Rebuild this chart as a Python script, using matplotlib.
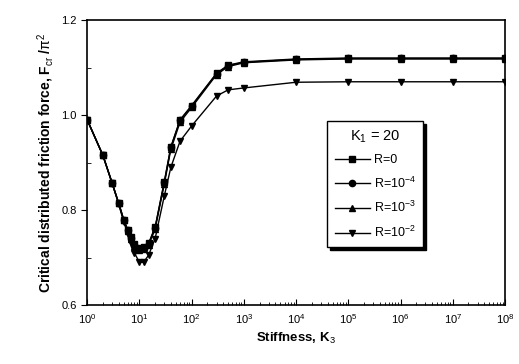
import matplotlib
matplotlib.use('Agg')
import matplotlib.pyplot as plt
from matplotlib.ticker import LogLocator, NullFormatter, FixedLocator

plt.rcParams['font.family'] = ['Liberation Sans', 'DejaVu Sans']
plt.rcParams['mathtext.fontset'] = 'custom'
plt.rcParams['mathtext.rm'] = 'Liberation Sans'
plt.rcParams['mathtext.it'] = 'Liberation Sans'

# stiffness values (x)
k3 = [1, 2, 3, 4, 5, 6, 7, 8, 10, 12, 15, 20, 30, 40, 60, 100, 300, 500, 1000,
      1e4, 1e5, 1e6, 1e7, 1e8]

f_r0 = [0.99, 0.915, 0.857, 0.815, 0.780, 0.758, 0.743, 0.728, 0.720, 0.722,
        0.730, 0.764, 0.860, 0.933, 0.990, 1.020, 1.088, 1.105, 1.112,
        1.118, 1.120, 1.120, 1.120, 1.120]
f_r4 = [0.99, 0.915, 0.857, 0.815, 0.780, 0.757, 0.742, 0.727, 0.719, 0.721,
        0.729, 0.763, 0.859, 0.932, 0.989, 1.019, 1.087, 1.104, 1.111,
        1.117, 1.119, 1.119, 1.119, 1.119]
f_r3 = [0.99, 0.915, 0.856, 0.814, 0.778, 0.755, 0.739, 0.724, 0.716, 0.718,
        0.726, 0.760, 0.855, 0.928, 0.985, 1.016, 1.085, 1.102, 1.110,
        1.116, 1.118, 1.118, 1.118, 1.118]
f_r2 = [0.99, 0.915, 0.857, 0.813, 0.775, 0.750, 0.730, 0.710, 0.690, 0.690,
        0.705, 0.740, 0.830, 0.890, 0.945, 0.977, 1.040, 1.053, 1.057,
        1.069, 1.070, 1.070, 1.070, 1.070]

labels = ['R=0', 'R=10$^{-4}$', 'R=10$^{-3}$', 'R=10$^{-2}$']
markers = ['s', 'o', '^', 'v']

fig = plt.figure(figsize=(5.19, 3.64), dpi=100)
ax = fig.add_axes([0.168, 0.162, 0.805, 0.783])

for f, lab, m in zip([f_r0, f_r4, f_r3, f_r2], labels, markers):
    ax.plot(k3, f, color='black', marker=m, markersize=4.5, linewidth=1, label=lab)

ax.set_xscale('log')
ax.set_xlim(1, 1e8)
ax.set_ylim(0.6, 1.2)
ax.xaxis.set_major_locator(LogLocator(base=10, numticks=20))
ax.xaxis.set_minor_locator(LogLocator(base=10, subs=range(2, 10), numticks=100))
ax.xaxis.set_minor_formatter(NullFormatter())
ax.yaxis.set_major_locator(FixedLocator([0.6, 0.8, 1.0, 1.2]))
ax.yaxis.set_minor_locator(FixedLocator([0.7, 0.9, 1.1]))
ax.set_yticklabels(['0.6', '0.8', '1.0', '1.2'])

ax.tick_params(axis='x', which='both', direction='in', labelsize=8, pad=5)
ax.tick_params(axis='x', which='major', length=4)
ax.tick_params(axis='x', which='minor', length=2)
ax.tick_params(axis='y', which='major', direction='out', length=4, labelsize=8)
ax.tick_params(axis='y', which='minor', direction='in', length=3)
for s in ax.spines.values():
    s.set_linewidth(1.2)

ax.set_xlabel('Stiffness, K$_3$', fontsize=9.5, fontweight='bold')
ax.set_ylabel('Critical distributed friction force, F$_{cr}$ /$\\pi^2$',
              fontsize=10, fontweight='bold')

leg = ax.legend(title='K$_1$ = 20', loc='upper left',
                bbox_to_anchor=(0.56, 0.668), fontsize=9, title_fontsize=10.5,
                fancybox=False, shadow={'color': 'black', 'alpha': 1},
                edgecolor='black', framealpha=1,
                handlelength=2.8, labelspacing=0.75, borderpad=0.6,
                handletextpad=0.3)
leg.get_frame().set_linewidth(1)

fig.savefig('out.png', dpi=100)
